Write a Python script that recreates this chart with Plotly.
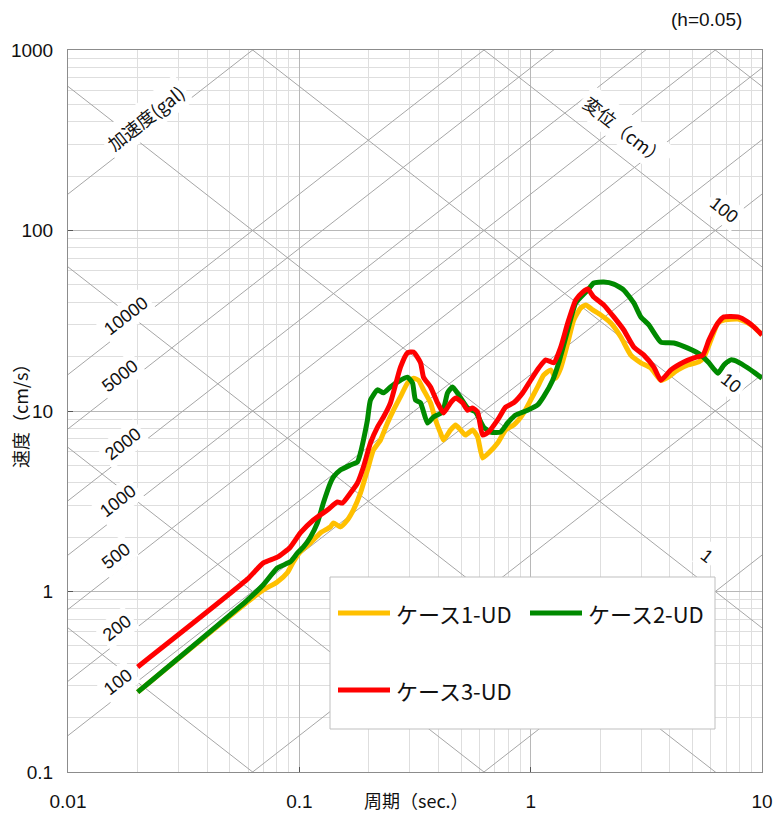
import math
import plotly.graph_objects as go

# ---------------- data ----------------
# ケース1-UD (yellow)
T1 = [0.02, 0.0596, 0.0699, 0.0803, 0.0887, 0.0942, 0.101, 0.1116, 0.1233, 0.1362, 0.1404,
      0.1505, 0.1614, 0.1713, 0.1837, 0.197, 0.2091, 0.2243, 0.2404, 0.2552, 0.2737, 0.2935,
      0.3115, 0.3274, 0.3442, 0.369, 0.3879, 0.4077, 0.4201, 0.4505, 0.4735, 0.4977, 0.5232,
      0.561, 0.5897, 0.6197, 0.6579, 0.7198, 0.7795, 0.8441, 0.8873, 0.9326, 1.0, 1.072,
      1.138, 1.221, 1.283, 1.349, 1.446, 1.535, 1.646, 1.73, 1.855, 2.009, 2.22, 2.453, 2.71,
      2.994, 3.307, 3.654, 3.918, 4.329, 4.783, 5.337, 5.609, 6.014, 6.45, 6.846, 7.874,
      8.697, 9.235, 10.0]
SV1 = [0.277, 0.875, 1.02, 1.13, 1.27, 1.46, 1.66, 1.86, 2.11, 2.28, 2.40,
       2.28, 2.49, 2.83, 3.51, 4.71, 6.08, 6.91, 8.58, 10.1, 12.0, 14.3,
       15.2, 14.8, 13.1, 11.1, 8.92, 7.55, 6.91, 7.85, 8.36, 7.85, 7.36,
       7.85, 7.18, 5.49, 5.85, 6.65, 7.85, 8.36, 8.92, 9.75, 11.5, 13.6,
       15.8, 16.9, 15.2, 17.3, 23.8, 31.9, 37.2, 38.7, 36.3, 34.0, 30.7, 25.7, 20.4,
       18.5, 17.3, 14.8, 15.4, 16.9, 18.0, 18.7, 19.9, 24.7, 30.7, 31.9, 32.3,
       30.7, 29.2, 26.4]

# ケース2-UD (green)
T2 = [0.02, 0.0596, 0.0699, 0.0803, 0.0914, 0.098, 0.104, 0.1116, 0.1197, 0.127, 0.1362,
      0.1404, 0.1505, 0.1663, 0.1783, 0.1837, 0.1893, 0.197, 0.203, 0.2177, 0.2311, 0.2477,
      0.2737, 0.2935, 0.3085, 0.3178, 0.3341, 0.3581, 0.3802, 0.4159, 0.4372, 0.4595,
      0.4879, 0.5337, 0.578, 0.6259, 0.6711, 0.7417, 0.7951, 0.8612, 0.9705, 1.072, 1.138,
      1.245, 1.322, 1.446, 1.566, 1.765, 1.874, 2.07, 2.287, 2.527, 2.792, 2.994, 3.242,
      3.654, 4.159, 4.783, 5.444, 5.896, 6.45, 6.846, 7.34, 7.874, 8.697, 9.235, 10.0]
SV2 = [0.277, 0.897, 1.09, 1.35, 1.46, 1.63, 1.76, 2.00, 2.40, 3.09, 3.99,
       4.31, 4.71, 5.02, 5.22, 5.85, 6.91, 8.92, 11.5, 13.1, 12.6, 13.6,
       14.8, 15.4, 14.3, 11.5, 11.1, 8.58, 9.26, 9.87, 12.6, 13.6,
       12.3, 10.4, 9.87, 8.15, 7.65, 7.65, 8.58, 9.50, 10.1, 10.8, 12.0,
       14.8, 18.5, 28.1, 39.7, 46.8, 51.2, 51.8, 50.5, 46.8, 39.7, 33.2, 30.0,
       24.1, 23.8, 22.3, 20.4, 18.5, 16.2, 18.0, 19.2, 18.7, 17.3, 16.4, 15.2]

# ケース3-UD (red)
T3 = [0.02, 0.0596, 0.0699, 0.0803, 0.0914, 0.101, 0.115, 0.1322, 0.1461, 0.1535, 0.1663,
      0.1783, 0.1893, 0.203, 0.2177, 0.2311, 0.2477, 0.2737, 0.2935, 0.3115, 0.3341, 0.3442,
      0.369, 0.3957, 0.4201, 0.4505, 0.4735, 0.5077, 0.5337, 0.561, 0.5897, 0.6197, 0.6579,
      0.7198, 0.7795, 0.8441, 0.9234, 1.0, 1.083, 1.161, 1.258, 1.349, 1.446, 1.566, 1.679,
      1.765, 1.874, 2.07, 2.287, 2.527, 2.792, 3.085, 3.408, 3.654, 4.037, 4.595, 5.077,
      5.554, 5.896, 6.45, 6.846, 7.874, 8.697, 9.235, 10.0]
SV3 = [0.382, 1.17, 1.44, 1.55, 1.76, 2.11, 2.49, 2.83, 3.13, 3.09, 3.51,
       3.99, 4.90, 6.65, 8.15, 9.26, 11.1, 17.5, 21.0, 21.2, 18.5, 15.4,
       13.6, 11.1, 9.75, 11.1, 11.8, 11.1, 10.1, 10.4, 9.87, 7.36, 7.65,
       8.92, 10.5, 11.1, 12.6, 14.8, 17.3, 19.2, 18.5, 22.6, 30.7, 41.2, 45.6,
       47.4, 42.8, 38.7, 33.2, 28.1, 22.6, 20.4, 17.5, 14.8, 16.9, 18.7, 19.7,
       20.4, 24.7, 30.7, 33.2, 33.2, 31.1, 29.2, 26.4]

SERIES_NAMES = ["ケース1-UD", "ケース2-UD", "ケース3-UD"]
SERIES_COLORS = ["#FFC000", "#008A00", "#FF0000"]

# tripartite grid values
ACC_LINES = [1, 10, 100, 200, 500, 1000, 2000, 5000, 10000, 100000]   # gal
DISP_LINES = [0.001, 0.01, 0.1, 1, 10, 100, 1000]                      # cm
ACC_LABELS = ["100", "200", "500", "1000", "2000", "5000", "10000"]
DISP_LABELS = ["100", "10", "1"]

X_TICKS = [0.01, 0.1, 1, 10]
X_TICKTEXT = ["0.01", "0.1", "1", "10"]
Y_TICKS = [0.1, 1, 10, 100, 1000]
Y_TICKTEXT = ["0.1", "1", "10", "100", "1000"]

# ---------------- layout geometry ----------------
W, H = 774, 813
ML, MR, MT, MB = 68, 12, 50, 41
PW, PH = W - ML - MR, H - MT - MB


def px(x, y):
    return (x - ML) / PW, (H - MB - y) / PH


JP = "Noto Sans CJK JP, Liberation Sans, Arial, sans-serif"
NUM = "Liberation Sans, Arial, sans-serif"

fig = go.Figure()

T_END = [X_TICKS[0], X_TICKS[-1]]
two_pi = 2 * math.pi
for a in ACC_LINES:
    fig.add_trace(go.Scatter(x=T_END, y=[a * t / two_pi for t in T_END], mode="lines",
                             line=dict(color="#a6a6a6", width=1), hoverinfo="skip",
                             showlegend=False))
for d in DISP_LINES:
    fig.add_trace(go.Scatter(x=T_END, y=[d * two_pi / t for t in T_END], mode="lines",
                             line=dict(color="#a6a6a6", width=1), hoverinfo="skip",
                             showlegend=False))

for t, s, name, col in zip([T1, T2, T3], [SV1, SV2, SV3], SERIES_NAMES, SERIES_COLORS):
    fig.add_trace(go.Scatter(x=t, y=s, mode="lines", name=name,
                             line=dict(color=col, width=5, shape="spline", smoothing=0.5),
                             showlegend=False))

annotations = []
shapes = []


def note(x, y, text, size, family, angle=0, bg=None, xanchor="center"):
    xp, yp = px(x, y)
    d = dict(x=xp, y=yp, xref="paper", yref="paper", text=text, showarrow=False,
             xanchor=xanchor, yanchor="middle", textangle=angle,
             font=dict(family=family, size=size, color="#111"))
    if bg:
        d.update(bgcolor=bg, borderpad=3)
    annotations.append(d)


# diagonal labels - acceleration (rising)
acc_pos = [(118, 682), (117, 628), (116, 556), (118, 501), (123, 444), (120, 376), (126, 316)]
for lab, (x, y) in zip(ACC_LABELS, acc_pos):
    note(x, y, lab, 18, NUM, -38, "white")
note(145, 118, "加速度(gal)", 18, JP, -38, "white")

# diagonal labels - displacement (falling)
disp_pos = [(724, 210), (731, 383), (707, 556)]
for lab, (x, y) in zip(DISP_LABELS, disp_pos):
    note(x, y, lab, 18, NUM, 38, "white")
note(625, 130, "変位（cm）", 18, JP, 38, "white")

# axis titles and note
note(20, 411, "速度（cm/s）", 18, JP, -90)
note(416, 800, "周期（sec.）", 18, JP)
note(706, 20, "(h=0.05)", 19, NUM)

# legend box
x0, y0 = px(330, 577)
x1, y1 = px(715, 729)
shapes.append(dict(type="rect", xref="paper", yref="paper", x0=x0, y0=y1, x1=x1, y1=y0,
                   fillcolor="white", line=dict(color="#bfbfbf", width=1), layer="above"))
leg_pos = [(338, 613), (530, 613), (338, 690)]
for name, col, (x, y) in zip(SERIES_NAMES, SERIES_COLORS, leg_pos):
    a0, b0 = px(x, y)
    a1, _ = px(x + 52, y)
    shapes.append(dict(type="line", xref="paper", yref="paper", x0=a0, y0=b0, x1=a1, y1=b0,
                       line=dict(color=col, width=5), layer="above"))
    note(x + 56, y, name, 22, JP, xanchor="left")

axis_common = dict(type="log", showline=True, mirror=True, linecolor="#8c8c8c", linewidth=1,
                   showgrid=True, gridcolor="#b8b8b8", gridwidth=1, zeroline=False,
                   ticks="inside", ticklen=5, tickcolor="#555", automargin=False,
                   tickfont=dict(family=NUM, size=19, color="#111"),
                   minor=dict(dtick="D1", showgrid=True, gridcolor="#dedede", gridwidth=1, ticks=""))

fig.update_xaxes(range=[math.log10(X_TICKS[0]), math.log10(X_TICKS[-1])], tickvals=X_TICKS,
                 ticktext=X_TICKTEXT, ticklabelstandoff=12, **axis_common)
fig.update_yaxes(range=[math.log10(Y_TICKS[0]), math.log10(Y_TICKS[-1])], tickvals=Y_TICKS,
                 ticktext=Y_TICKTEXT, ticklabelstandoff=10, **axis_common)

fig.update_layout(width=W, height=H, autosize=False,
                  margin=dict(l=ML, r=MR, t=MT, b=MB, pad=0, autoexpand=False),
                  paper_bgcolor="white", plot_bgcolor="white",
                  showlegend=False, annotations=annotations, shapes=shapes)

fig.write_html("out.html")
